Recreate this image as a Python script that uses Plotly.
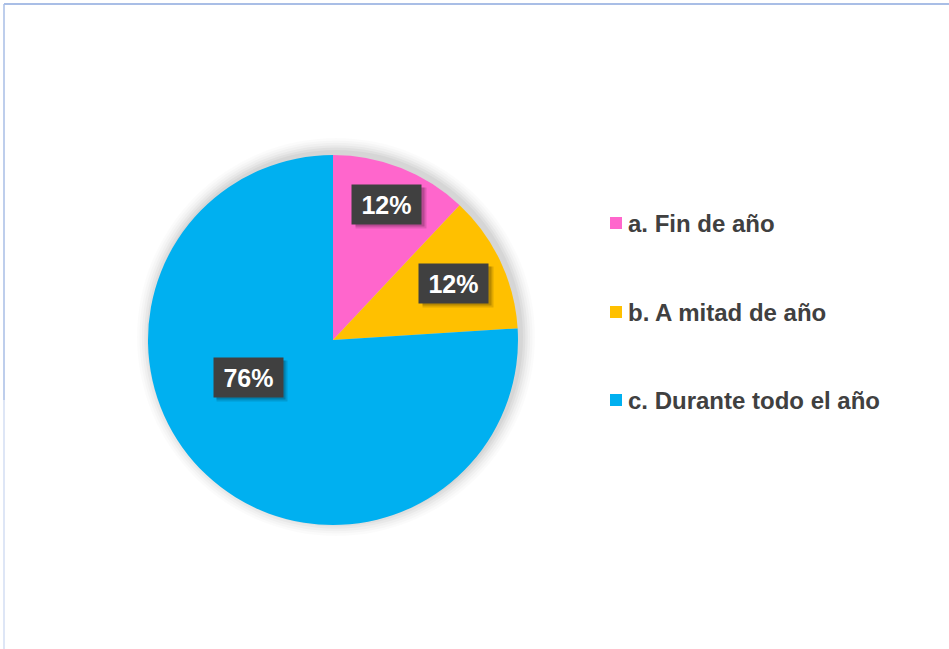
import math
import plotly.graph_objects as go

labels = ["a. Fin de año", "b. A mitad de año", "c. Durante todo el año"]
values = [3, 3, 19]
colors = ["#FF66CC", "#FFC000", "#00B0F0"]

W, H = 949, 649
cx, cy, R = 333, 340, 185  # pie centre / radius in pixels (style)
label_r = [0.79, 0.72, 0.5]
label_nudge = [0, 0, 23]

def px(x):
    return x / W

def py(y):
    return 1 - y / H

fig = go.Figure()
fig.add_trace(go.Pie(
    labels=labels, values=values, sort=False, direction="clockwise", rotation=0,
    marker=dict(colors=colors, line=dict(width=0)),
    textinfo="none", hoverinfo="label+percent", showlegend=False,
    domain=dict(x=[px(cx - R), px(cx + R)], y=[py(cy + R), py(cy - R)]),
))

shapes = []
# soft shadow around the pie
for i, a in enumerate([0.015, 0.02, 0.025, 0.03, 0.035, 0.04]):
    g = 14 - 2.4 * i
    shapes.append(dict(type="circle", xref="paper", yref="paper", layer="below",
                       x0=px(cx - R - g + 3), x1=px(cx + R + g + 3),
                       y0=py(cy + R + g - 3), y1=py(cy - R - g - 3),
                       fillcolor=f"rgba(0,0,0,{a})", line=dict(width=0)))
# outer frame (top and left edges only visible)
shapes.append(dict(type="line", xref="paper", yref="paper",
                   x0=px(4), x1=1.0, y0=py(4), y1=py(4),
                   line=dict(color="#A9BEE6", width=2)))
shapes.append(dict(type="line", xref="paper", yref="paper",
                   x0=px(4), x1=px(4), y0=py(4), y1=py(400),
                   line=dict(color="#A9BEE6", width=1.5)))
shapes.append(dict(type="line", xref="paper", yref="paper",
                   x0=px(4), x1=px(4), y0=py(400), y1=0,
                   line=dict(color="#D3DEF3", width=1.5)))

annotations = []
total = sum(values)
cum = 0
for i, v in enumerate(values):
    mid = (cum + v / 2) / total * 360 + label_nudge[i]
    cum += v
    r = label_r[i] * R
    x = cx + r * math.sin(math.radians(mid))
    y = cy - r * math.cos(math.radians(mid))
    txt = f"{round(v / total * 100)}%"
    # box shadow
    for k, a in enumerate([0.12, 0.18]):
        annotations.append(dict(x=px(x + 4 - k), y=py(y + 4 - k), xref="paper", yref="paper",
                                xanchor="center", yanchor="middle",
                                text=" ", showarrow=False, width=70 - 2 * k, height=40 - 2 * k,
                                bgcolor=f"rgba(0,0,0,{a})", borderpad=0))
    annotations.append(dict(x=px(x), y=py(y), xref="paper", yref="paper",
                            xanchor="center", yanchor="middle",
                            text=f"<b>{txt}</b>", showarrow=False, width=69, height=39,
                            bgcolor="#404040", borderpad=0,
                            font=dict(family="Liberation Sans, Arial", size=25, color="white")))

# legend
leg_y = [223, 312, 400]
for i, lab in enumerate(labels):
    shapes.append(dict(type="rect", xref="paper", yref="paper",
                       x0=px(610), x1=px(622), y0=py(leg_y[i] + 6), y1=py(leg_y[i] - 6),
                       fillcolor=colors[i], line=dict(width=0)))
    annotations.append(dict(x=px(626), y=py(leg_y[i]), xref="paper", yref="paper",
                            xanchor="left", yanchor="middle", showarrow=False,
                            text=f"<b>{lab}</b>",
                            font=dict(family="Liberation Sans, Arial", size=24, color="#404040")))

fig.update_layout(
    width=W, height=H, margin=dict(l=0, r=0, t=0, b=0),
    paper_bgcolor="white", plot_bgcolor="white",
    shapes=shapes, annotations=annotations,
)
fig.write_html("out.html", config={"displayModeBar": False},
               post_script="document.body.style.margin='0';document.body.style.overflow='hidden';")
